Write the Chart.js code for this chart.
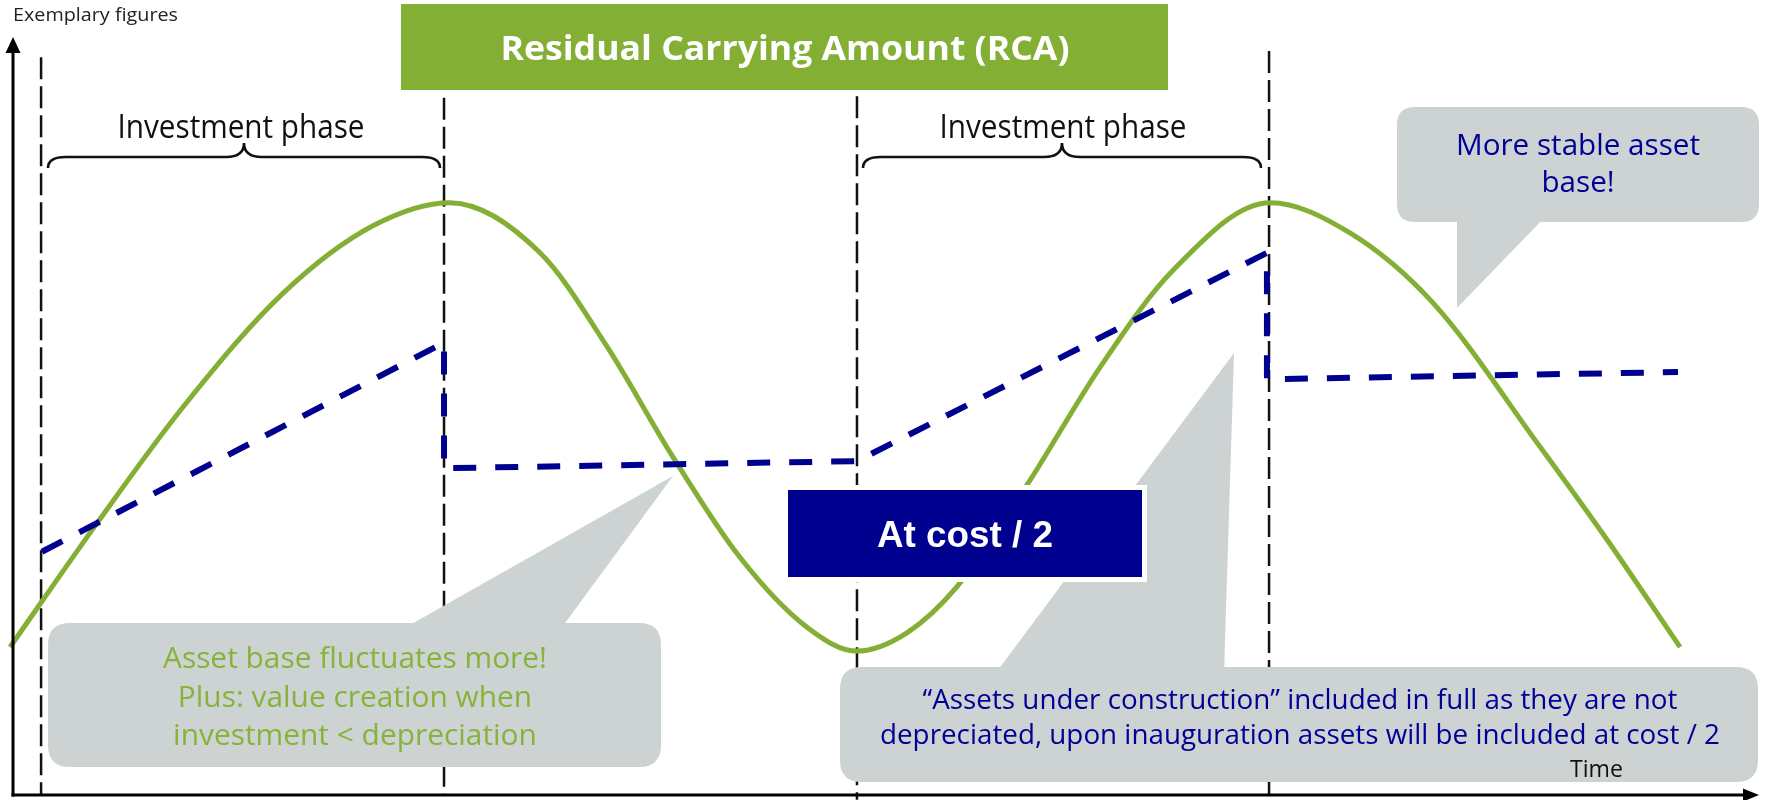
<!DOCTYPE html>
<html><head><meta charset="utf-8">
<script src="https://cdn.jsdelivr.net/npm/chart.js@4.4.1/dist/chart.umd.min.js"></script>
<style>html,body{margin:0;padding:0;background:#fff;overflow:hidden}#wrap{width:1768px;height:800px}</style>
</head><body><div id="wrap"><canvas id="c" width="1768" height="800"></canvas></div>
<script>
// ---- data (time units 0..100, value units 0..100) ----
const greenTime  = [-0.17, 4.79, 9.69, 15.38, 20.51, 24.90, 30.03, 33.85, 37.61, 41.42, 45.24, 48.09, 50.94, 53.79, 57.78, 61.94, 66.10, 71.62, 76.18, 80.91, 87.01, 90.83, 94.99];
const greenValue = [18.6, 34.2, 48.8, 63.1, 71.6, 74.5, 68.2, 56.4, 42.5, 29.9, 21.1, 18.1, 20.4, 26.2, 39.0, 53.8, 66.0, 74.5, 70.7, 61.9, 43.8, 32.1, 18.6];
const blueTime   = [1.65, 24.56, 24.56, 48.09, 71.45, 71.45, 94.87];
const blueValue  = [30.6, 56.9, 41.1, 42.0, 68.2, 52.3, 53.2];
const phaseTime   = [1.60, 24.56, 48.09, 71.57];
const phaseTop    = [92.8, 87.7, 87.9, 93.6];
const phaseBottom = [0, 0, -0.6, 0];

// ---- texts ----
const yAxisLabel = 'Exemplary figures';
const xAxisLabel = 'Time';
const titleText = 'Residual Carrying Amount (RCA)';
const phaseLabel = 'Investment phase';
const boxText = 'At cost / 2';
const bubbleLeft = ['Asset base fluctuates more!', 'Plus: value creation when', 'investment < depreciation'];
const bubbleRight = ['\u201CAssets under construction\u201D included in full as they are not', 'depreciated, upon inauguration assets will be included at cost / 2'];
const bubbleTop = ['More stable asset', 'base!'];

// ---- colours ----
const GREEN = '#84AF35', NAVY = '#00008F', GREY = '#CDD2D2', GREEN_TXT = '#86B33A', BLUE_TXT = '#000096';

const toXY = (xs, ys) => xs.map((x, i) => ({x, y: ys[i]}));

const datasets = [
  {label: 'RCA at cost / 2', data: toXY(blueTime, blueValue), borderColor: NAVY, borderWidth: 6,
   borderDash: [23, 19], borderCapStyle: 'butt', tension: 0, pointRadius: 0, clip: false, order: 0, fill: false},
  {label: 'RCA', data: toXY(greenTime, greenValue), borderColor: GREEN, borderWidth: 5,
   cubicInterpolationMode: 'monotone', pointRadius: 0, clip: false, order: 1, fill: false}
];
phaseTime.forEach((t, i) => datasets.push({
  label: 'phase ' + i, data: [{x: t, y: phaseTop[i]}, {x: t, y: phaseBottom[i]}],
  borderColor: '#111', borderWidth: 2.5, borderDash: [22, 7], pointRadius: 0, clip: false, order: 2 + i, fill: false
}));

function rrect(ctx, x0, y0, x1, y1, r) {
  ctx.beginPath();
  ctx.moveTo(x0 + r, y0); ctx.lineTo(x1 - r, y0); ctx.quadraticCurveTo(x1, y0, x1, y0 + r);
  ctx.lineTo(x1, y1 - r); ctx.quadraticCurveTo(x1, y1, x1 - r, y1);
  ctx.lineTo(x0 + r, y1); ctx.quadraticCurveTo(x0, y1, x0, y1 - r);
  ctx.lineTo(x0, y0 + r); ctx.quadraticCurveTo(x0, y0, x0 + r, y0); ctx.closePath();
}
function bubble(ctx, b) {
  ctx.fillStyle = GREY;
  rrect(ctx, b.x0, b.y0, b.x1, b.y1, b.r); ctx.fill();
  ctx.beginPath(); ctx.moveTo(b.p[0][0], b.p[0][1]); ctx.lineTo(b.p[1][0], b.p[1][1]); ctx.lineTo(b.p[2][0], b.p[2][1]); ctx.closePath(); ctx.fill();
}
function fitText(ctx, lines, x, baselines, font, color, refIdx, refWidth, align) {
  ctx.save(); ctx.font = font; ctx.fillStyle = color; ctx.textBaseline = 'alphabetic';
  const s = refWidth / ctx.measureText(lines[refIdx]).width;
  lines.forEach((t, i) => { ctx.save(); ctx.translate(x, baselines[i]); ctx.scale(s, 1); ctx.textAlign = align || 'center'; ctx.fillText(t, 0, 0); ctx.restore(); });
  ctx.restore();
}
function brace(ctx, x0, x1, yb, ym, yt, r) {
  const xc = (x0 + x1) / 2;
  ctx.beginPath();
  ctx.moveTo(x0, yb); ctx.quadraticCurveTo(x0, ym, x0 + r, ym);
  ctx.lineTo(xc - r, ym); ctx.quadraticCurveTo(xc, ym, xc, yt);
  ctx.quadraticCurveTo(xc, ym, xc + r, ym);
  ctx.lineTo(x1 - r, ym); ctx.quadraticCurveTo(x1, ym, x1, yb);
  ctx.stroke();
}

const overlay = {
  id: 'overlay',
  afterDatasetsDraw(chart) {
    const ctx = chart.ctx, xs = chart.scales.x, ys = chart.scales.y;
    const ox = xs.getPixelForValue(0), oy = ys.getPixelForValue(0);
    ctx.save();
    // bubbles
    bubble(ctx, {x0: 48, y0: 623, x1: 661, y1: 767, r: 22, p: [[401, 630], [673, 476], [560, 630]]});
    bubble(ctx, {x0: 840, y0: 667, x1: 1758, y1: 782, r: 22, p: [[995, 674], [1234, 353], [1224, 674]]});
    bubble(ctx, {x0: 1397, y0: 107, x1: 1759, y1: 222, r: 18, p: [[1457, 215], [1457, 308], [1547, 215]]});
    // axes
    ctx.strokeStyle = '#000'; ctx.fillStyle = '#000'; ctx.lineWidth = 3;
    ctx.beginPath(); ctx.moveTo(ox, oy + 1.5); ctx.lineTo(ox, 50); ctx.stroke();
    ctx.beginPath(); ctx.moveTo(ox, 37); ctx.lineTo(ox - 7.5, 53); ctx.lineTo(ox + 7.5, 53); ctx.closePath(); ctx.fill();
    ctx.beginPath(); ctx.moveTo(ox - 1.5, oy); ctx.lineTo(1746, oy); ctx.stroke();
    ctx.beginPath(); ctx.moveTo(1759, oy); ctx.lineTo(1743, oy - 6.5); ctx.lineTo(1743, oy + 6.5); ctx.closePath(); ctx.fill();
    // At cost / 2 box
    ctx.fillStyle = '#fff'; ctx.fillRect(783, 485, 364, 97);
    ctx.fillStyle = NAVY; ctx.fillRect(788, 490, 354, 87);
    fitText(ctx, [boxText], 965, [547], 'bold 36px "Liberation Sans", Arial, sans-serif', '#fff', 0, 176);
    // title box
    ctx.fillStyle = GREEN; ctx.fillRect(401, 4, 767, 86);
    fitText(ctx, [titleText], 785, [60], 'bold 34px "Open Sans", sans-serif', '#fff', 0, 569);
    // braces
    ctx.strokeStyle = '#111'; ctx.lineWidth = 2.6;
    brace(ctx, 48, 440, 168, 157, 143, 18);
    brace(ctx, 863, 1261, 168, 157, 143, 18);
    fitText(ctx, [phaseLabel], 241, [138], '32px "Open Sans", sans-serif', '#111', 0, 247);
    fitText(ctx, [phaseLabel], 1063, [138], '32px "Open Sans", sans-serif', '#111', 0, 247);
    // bubble texts
    fitText(ctx, bubbleLeft, 355, [668, 707, 745], '30px "Open Sans", sans-serif', GREEN_TXT, 0, 384);
    fitText(ctx, bubbleRight, 1300, [709, 744], '27px "Open Sans", sans-serif', BLUE_TXT, 1, 840);
    fitText(ctx, bubbleTop, 1578, [155, 192], '30px "Open Sans", sans-serif', BLUE_TXT, 0, 244);
    // axis labels
    fitText(ctx, [yAxisLabel], 13, [21], '18px "Open Sans", sans-serif', '#222', 0, 165, 'left');
    fitText(ctx, [xAxisLabel], 1570, [777], '23px "Open Sans", sans-serif', '#111', 0, 53, 'left');
    ctx.restore();
  }
};

new Chart(document.getElementById('c'), {
  type: 'line',
  data: {datasets},
  options: {
    responsive: false, animation: false, events: [],
    layout: {padding: {left: 13, right: 0, top: 0, bottom: 5}, autoPadding: false},
    plugins: {legend: {display: false}, tooltip: {enabled: false}, title: {display: false}},
    scales: {
      x: {type: 'linear', display: false, min: 0, max: 100},
      y: {type: 'linear', display: false, min: 0, max: 100}
    }
  },
  plugins: [overlay]
});
</script></body></html>
